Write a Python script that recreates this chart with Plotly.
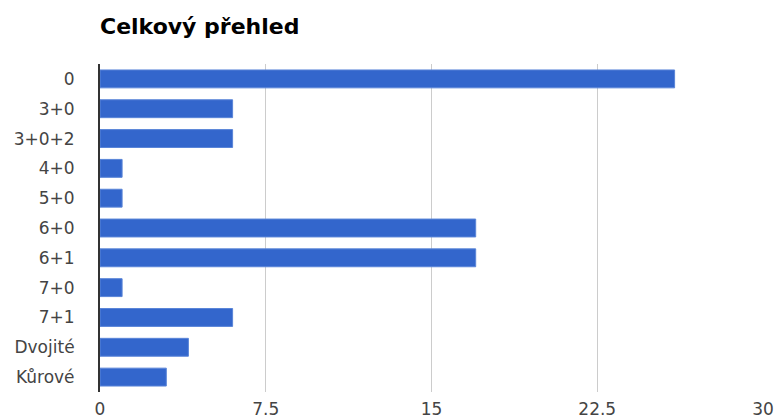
import plotly.graph_objects as go

categories = ["0", "3+0", "3+0+2", "4+0", "5+0", "6+0", "6+1", "7+0", "7+1", "Dvojité", "Kůrové"]
values = [26, 6, 6, 1, 1, 17, 17, 1, 6, 4, 3]
tick_vals = [0, 7.5, 15, 22.5, 30]
tick_text = ["0", "7.5", "15", "22.5", "30"]
title_text = "Celkový přehled"

fig = go.Figure(go.Bar(
    x=values, y=categories, orientation="h",
    marker=dict(color="#3366CC", line=dict(color="#5A85D8", width=1)),
    width=0.6,
))

fig.update_layout(
    width=776, height=416,
    margin=dict(l=100, r=13, t=64, b=24),
    paper_bgcolor="white", plot_bgcolor="white",
    font=dict(family="DejaVu Sans, Arial, sans-serif", size=17, color="#444"),
    title=dict(text="<b>" + title_text + "</b>", x=100/776, xanchor="left", y=1 - 26/416, yanchor="middle",
               font=dict(size=22, color="#000")),
    showlegend=False,
)
fig.update_xaxes(range=[0, 30], tickvals=tick_vals, ticktext=tick_text, automargin=False,
                 showgrid=True, gridcolor="#CCCCCC", gridwidth=1,
                 zeroline=False, showline=False,
                 ticks="outside", ticklen=2, tickcolor="rgba(0,0,0,0)",
                 tickfont=dict(size=17, color="#444"))
fig.update_yaxes(categoryorder="array", categoryarray=categories, autorange="reversed", automargin=False,
                 showgrid=False, zeroline=False, showline=True, linecolor="#333333", linewidth=2,
                 ticks="outside", ticklen=20, tickcolor="rgba(0,0,0,0)",
                 tickfont=dict(size=17, color="#444"))

fig.write_html("out.html")
